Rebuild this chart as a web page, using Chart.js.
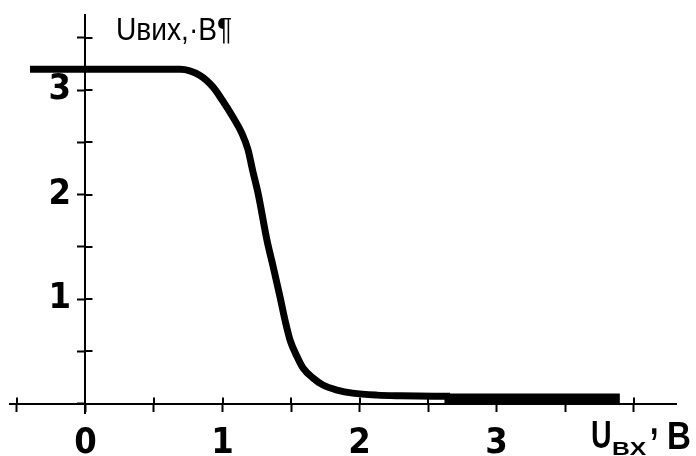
<!DOCTYPE html>
<html>
<head>
<meta charset="utf-8">
<script src="https://cdn.jsdelivr.net/npm/chart.js@4.4.0/dist/chart.umd.min.js"></script>
<style>
  html, body { margin: 0; padding: 0; background: #fff; }
</style>
</head>
<body>
<canvas id="chart" width="696" height="456"></canvas>
<script>
// передаточна характеристика: Uвх -> Uвих
const uIn  = [-0.405, 0.69, 0.836, 0.93, 1.0, 1.077, 1.14, 1.186, 1.22, 1.26, 1.325, 1.37, 1.42, 1.456, 1.495, 1.544, 1.588, 1.66, 1.733, 1.836, 1.95, 2.128, 2.3, 2.66];
const uOut = [3.2, 3.2, 3.14, 3.03, 2.9, 2.74, 2.59, 2.43, 2.23, 2.01, 1.56, 1.31, 1.02, 0.8, 0.6, 0.45, 0.34, 0.245, 0.178, 0.13, 0.10, 0.081, 0.075, 0.07];

// товстий "хвіст" у правій частині
const tailIn  = [2.62, 3.9];
const tailOut = [0.045, 0.045];

const xTicks  = [-0.5, 0, 0.5, 1, 1.5, 2, 2.5, 3, 3.5, 4];
const xLabels = ['', '0', '', '1', '', '2', '', '3', '', ''];
const yTicks  = [0, 0.5, 1, 1.5, 2, 2.5, 3, 3.5];
const yLabels = ['', '', '1', '', '2', '', '3', ''];

const NARROW = '"Liberation Sans Narrow", "DejaVu Sans Condensed", sans-serif';

const toPoints = (xs, ys) => xs.map((x, i) => ({ x: x, y: ys[i] }));

// риски з обох боків осі
const crossTicks = {
  id: 'crossTicks',
  beforeDatasetsDraw(chart) {
    const { ctx, scales: { x, y } } = chart;
    const x0 = x.getPixelForValue(0);
    const y0 = y.getPixelForValue(0);
    ctx.save();
    ctx.strokeStyle = '#000';
    ctx.lineWidth = 2;
    ctx.beginPath();
    xTicks.forEach(v => {
      const px = Math.round(x.getPixelForValue(v));
      ctx.moveTo(px, y0);
      ctx.lineTo(px, y0 - 6);
    });
    yTicks.forEach(v => {
      if (v === 0) return;
      const py = Math.round(y.getPixelForValue(v));
      ctx.moveTo(x0, py);
      ctx.lineTo(x0 + 7, py);
    });
    ctx.stroke();
    ctx.restore();
  }
};

// вузький текст (Arial Narrow немає, тож стискаємо Liberation Sans)
function narrowText(ctx, text, x, y, font, k) {
  ctx.save();
  ctx.font = font;
  ctx.translate(x, y);
  ctx.scale(k, 1);
  ctx.fillText(text, 0, 0);
  ctx.restore();
}

// підписи осей
const axisTitles = {
  id: 'axisTitles',
  afterDraw(chart) {
    const { ctx } = chart;
    ctx.save();
    ctx.fillStyle = '#000';
    ctx.textBaseline = 'alphabetic';
    ctx.textAlign = 'left';

    narrowText(ctx, 'Uвих,·В¶', 116, 40, '32px "Liberation Sans", sans-serif', 0.88);

    narrowText(ctx, 'U', 591, 448, 'bold 38px "Liberation Sans", sans-serif', 0.75);
    narrowText(ctx, 'BX', 612, 455, 'bold 19px "Liberation Sans", sans-serif', 1.3);
    narrowText(ctx, ',', 650, 434, 'bold 38px "Liberation Sans", sans-serif', 0.8);
    narrowText(ctx, 'B', 667, 449, 'bold 39px "Liberation Sans", sans-serif', 0.85);
    ctx.restore();
  }
};

const ctx = document.querySelector('#chart').getContext('2d');

const configChart = {
  type: 'scatter',
  data: {
    datasets: [{
      label: 'Uвих',
      data: toPoints(uIn, uOut),
      showLine: true,
      borderColor: '#000',
      borderWidth: 7,
      pointRadius: 0,
      cubicInterpolationMode: 'monotone',
      borderJoinStyle: 'round'
    }, {
      label: 'tail',
      data: toPoints(tailIn, tailOut),
      showLine: true,
      borderColor: '#000',
      borderWidth: 11,
      pointRadius: 0
    }]
  },
  options: {
    responsive: false,
    animation: false,
    devicePixelRatio: 1,
    layout: { padding: { left: 10, right: 20, top: 15, bottom: 43 } },
    plugins: {
      legend: { display: false },
      tooltip: { enabled: false }
    },
    scales: {
      x: {
        type: 'linear',
        min: -0.551,
        max: 4.31,
        position: { y: 0 },
        afterBuildTicks: s => { s.ticks = xTicks.map(v => ({ value: v })); },
        ticks: {
          callback: (v, i) => xLabels[i],
          color: '#000',
          padding: 15,
          maxRotation: 0,
          autoSkip: false,
          font: { family: NARROW, size: 36, weight: 'bold', lineHeight: 1 }
        },
        grid: { drawOnChartArea: false, drawTicks: true, tickLength: 7, tickWidth: 2, color: '#000' },
        border: { display: true, color: '#000', width: 2 }
      },
      y: {
        type: 'linear',
        min: -0.09,
        max: 3.718,
        position: { x: 0 },
        afterBuildTicks: s => { s.ticks = yTicks.map(v => ({ value: v })); },
        ticks: {
          // для осі по центру padding не зсуває підпис, тому відступ пробілами
          callback: (v, i) => yLabels[i] ? yLabels[i] + ' \u200A' : '',
          color: '#000',
          padding: 0,
          autoSkip: false,
          font: { family: NARROW, size: 36, weight: 'bold', lineHeight: 0.3 }
        },
        grid: { drawOnChartArea: false, drawTicks: true, tickLength: 7, tickWidth: 2, color: '#000' },
        border: { display: true, color: '#000', width: 2 }
      }
    }
  },
  plugins: [crossTicks, axisTitles]
};

const myChart = new Chart(ctx, configChart);
console.log(myChart.chartArea);
</script>
</body>
</html>
